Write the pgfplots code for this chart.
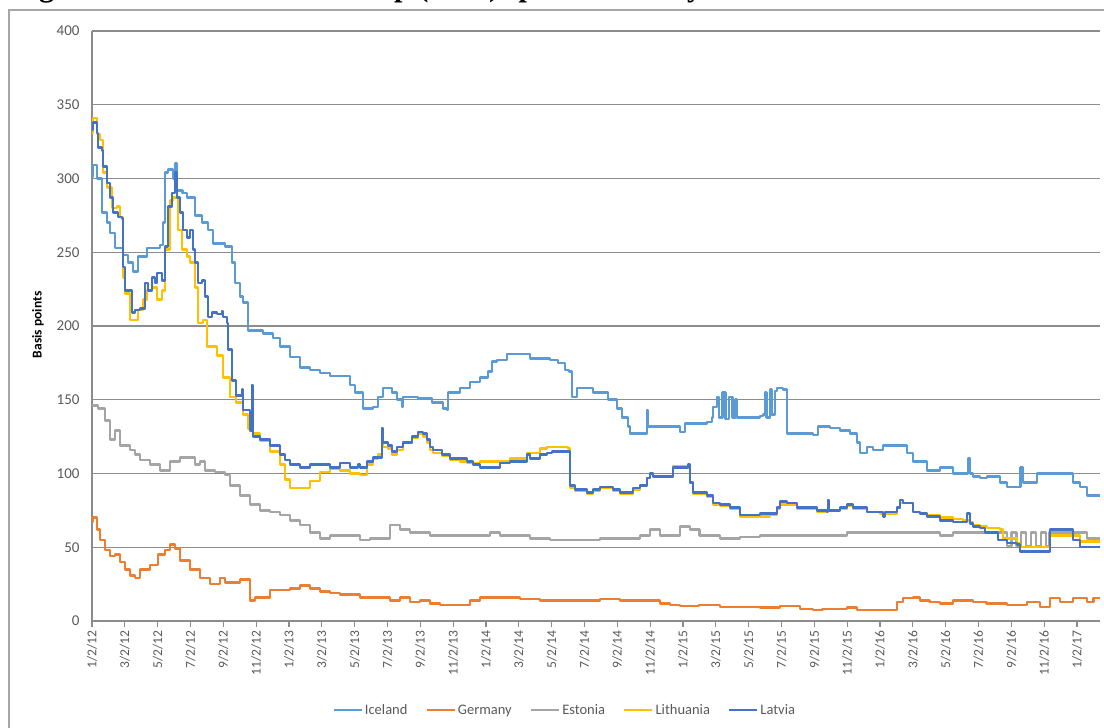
\documentclass[border=0pt]{standalone}
\usepackage{pgfplots}
\pgfplotsset{compat=1.18}
\usepackage{fontspec}
\setmainfont{Carlito}
\newfontfamily\titlefont{Liberation Serif}
\definecolor{iceland}{HTML}{5B9BD5}
\definecolor{germany}{HTML}{ED7D31}
\definecolor{estonia}{HTML}{A5A5A5}
\definecolor{lithuania}{HTML}{FFC000}
\definecolor{latvia}{HTML}{4472C4}
\definecolor{txt}{HTML}{595959}
\definecolor{gridc}{HTML}{8C8C8C}
\definecolor{framec}{HTML}{A6A6A6}
\begin{document}
\begin{tikzpicture}
\begin{scope}
\clip (0pt,0pt) rectangle (1104pt,728pt);
\node[anchor=base west, inner sep=0pt] at (12pt,731pt) {\titlefont\bfseries\fontsize{30.3}{30.3}\selectfont Figure 10: Credit default swap (CDS) spreads weekly};
\end{scope}
\draw[framec, line width=1.2pt] (9pt,0pt) -- (9pt,718pt) -- (1104pt,718pt);
\begin{axis}[
  at={(92pt,107pt)}, anchor=south west,
  width=1008pt, height=590pt, scale only axis,
  xmin=0, xmax=61.4, ymin=0, ymax=400,
  axis x line*=bottom, axis y line*=left,
  axis line style={gridc, line width=1.2pt, -},
  ytick={0,50,...,400},
  ymajorgrids, grid style={gridc, line width=1.1pt},
  tick align=outside, major tick length=6pt,
  xtick style={gridc, line width=1.1pt},
  ytick style={draw=none},
  xtick={0,2,...,60},
  xticklabels={1/2/12,3/2/12,5/2/12,7/2/12,9/2/12,11/2/12,1/2/13,3/2/13,5/2/13,7/2/13,9/2/13,11/2/13,1/2/14,3/2/14,5/2/14,7/2/14,9/2/14,11/2/14,1/2/15,3/2/15,5/2/15,7/2/15,9/2/15,11/2/15,1/2/16,3/2/16,5/2/16,7/2/16,9/2/16,11/2/16,1/2/17},
  xticklabel style={rotate=90, anchor=east, font=\fontsize{13.5}{13.5}\selectfont, text=txt},
  yticklabel style={font=\fontsize{15}{15}\selectfont, text=txt, xshift=-3pt},
  /pgf/number format/assume math mode=true,
  ylabel={\bfseries Basis points},
  ylabel style={at={(axis description cs:-0.0536,0.502)}, anchor=center, font=\fontsize{13.5}{13.5}\selectfont},
  legend style={at={(0.469,-0.151)}, anchor=center, draw=none, fill=none, legend columns=5,
    font=\fontsize{14.5}{14.5}\selectfont, text=txt,
    /tikz/every even column/.append style={column sep=16pt}},
  legend image code/.code={\draw[#1, line width=2.5pt] (0pt,0pt) -- (28pt,0pt);},
  every axis plot/.append style={line width=2.5pt, line join=round, const plot},
]
\addplot[iceland] coordinates {
(0,301)(0.06,309)(0.3,300)(0.61,277)(0.91,270)(1.1,263)(1.4,253)(1.89,248)(2.2,243)(2.5,237)(2.8,247)(3.35,253)(4.14,255)(4.32,270)(4.45,304)(4.63,306)(4.93,300)(5.05,310)(5.18,292)(5.5,290)(5.79,287)(6.09,287)(6.27,275)(6.7,270)(7.06,265)(7.37,256)(8.1,254)(8.53,243)(8.71,229)(9.01,220)(9.2,216)(9.5,197)(9.81,197)(10.41,195)(11.02,192)(11.45,186)(12.06,179)(12.67,172)(13.28,170)(13.89,168)(14.49,166)(15.1,166)(15.71,160)(16.02,155)(16.32,155)(16.5,144)(17.11,145)(17.42,152)(17.72,158)(18.27,155)(18.58,150)(18.88,145)(18.94,152)(19.85,151)(20.71,148)(21.38,144)(21.62,143)(21.68,155)(22.41,158)(23.02,162)(23.63,165)(24.12,169)(24.36,176)(24.67,177)(25.27,181)(26.07,181)(26.67,178)(27.41,178)(27.89,177)(28.38,175)(28.81,170)(29.05,169)(29.23,152)(29.54,158)(30.51,155)(31.24,155)(31.43,150)(31.97,144)(32.28,138)(32.64,132)(32.77,127)(33.37,127)(33.8,143)(33.86,132)(35.02,132)(35.81,128)(36.11,134)(37.45,135)(37.76,138)(37.82,145)(38.06,152)(38.2,138)(38.4,155)(38.6,137)(38.8,152)(39.0,138)(39.2,150)(39.28,138)(40.26,138)(40.68,139)(40.86,140)(41.0,155)(41.1,138)(41.3,157)(41.4,140)(41.6,156)(41.72,158)(42.08,157)(42.33,127)(43.91,126)(44.21,132)(44.95,131)(45.55,129)(46.16,127)(46.59,121)(46.77,114)(47.2,118)(47.56,116)(48.17,119)(49.21,119)(49.63,114)(50.0,108)(50.85,102)(51.64,104)(52.44,100)(53.29,100)(53.35,110)(53.47,100)(53.65,98)(54.08,97)(54.51,98)(55.3,94)(55.72,91)(56.52,91)(56.55,104)(56.7,94)(57.55,100)(59.38,100)(59.74,94)(60.17,91)(60.6,85)(61.39,85)
};
\addlegendentry{Iceland}
\addplot[germany] coordinates {
(0,67)(0.06,70)(0.3,62)(0.49,55)(0.79,48)(1.1,44)(1.4,45)(1.71,40)(2.01,35)(2.31,31)(2.62,29)(2.92,35)(3.53,38)(4.02,45)(4.45,48)(4.75,52)(5.05,49)(5.36,41)(5.97,35)(6.58,29)(7.19,25)(7.8,29)(8.1,26)(9.01,28)(9.62,14)(9.93,16)(10.23,16)(10.84,21)(11.45,21)(12.06,22)(12.67,24)(13.28,22)(13.89,20)(14.49,19)(15.1,18)(15.71,18)(16.32,16)(16.93,16)(17.54,16)(18.15,14)(18.76,16)(19.37,13)(19.98,14)(20.58,12)(21.19,11)(21.8,11)(22.41,11)(23.02,14)(23.63,16)(24.24,16)(24.85,16)(25.46,16)(26.07,15)(27.28,14)(28.5,14)(29.72,14)(30.94,15)(32.16,14)(33.37,14)(34.59,12)(35.2,11)(35.81,10)(36.98,11)(38.25,9.5)(39.46,9.5)(40.68,9)(41.9,10)(43.12,8)(43.91,7.5)(44.5,8)(45.98,9)(46.59,7.5)(48.42,7.5)(49.03,13)(49.39,15.6)(50.0,16)(50.43,14)(51.0,13)(51.64,12)(52.44,14)(53.65,13)(54.5,12)(55.72,11)(56.94,13)(57.73,9.5)(58.34,15.6)(58.95,13)(59.74,15.6)(60.6,13)(61.0,15.6)(61.39,15)
};
\addlegendentry{Germany}
\addplot[estonia] coordinates {
(0,146)(0.37,144)(0.79,136)(1.1,123)(1.4,129)(1.71,119)(2.31,116)(2.62,113)(2.92,109)(3.53,106)(4.14,102)(4.75,108)(5.36,111)(5.97,111)(6.27,106)(6.58,108)(6.88,102)(7.49,101)(8.1,99)(8.4,92)(9.01,85)(9.62,79)(10.23,75)(10.84,74)(11.45,72)(12.06,68)(12.67,65)(13.28,60)(13.89,56)(14.49,58)(15.71,58)(16.32,55)(16.93,56)(17.97,56)(18.15,65)(18.76,62)(19.37,60)(20.58,58)(21.8,58)(23.02,58)(24.24,60)(24.85,58)(25.46,58)(26.67,56)(27.89,55)(29.11,55)(30.94,56)(32.16,56)(33.37,58)(33.98,62)(34.59,58)(35.81,64)(36.42,62)(37.0,58)(38.25,56)(39.46,57)(40.68,58)(45.55,58)(45.98,60)(47.99,60)(51.64,58)(52.44,60)(54.08,60)(55.5,60)(55.72,51)(56.0,60)(56.3,51)(56.6,60)(56.9,51)(57.2,60)(57.5,51)(57.8,60)(58.1,51)(58.3,60)(60.17,60)(60.6,56)(61.39,56)
};
\addlegendentry{Estonia}
\addplot[lithuania] coordinates {
(0,331)(0.06,341)(0.3,330)(0.49,326)(0.67,304)(0.91,294)(1.22,280)(1.52,281)(1.71,274)(1.89,233)(2.01,222)(2.31,204)(2.5,204)(2.8,211)(3.11,218)(3.35,224)(3.65,226)(3.96,218)(4.26,224)(4.45,252)(4.75,285)(4.93,287)(5.24,265)(5.48,252)(5.79,247)(5.97,243)(6.27,226)(6.46,202)(6.76,204)(7.0,186)(7.31,186)(7.61,180)(7.98,165)(8.4,152)(8.77,148)(9.2,140)(9.5,130)(9.81,127)(10.23,122)(10.84,115)(11.45,106)(11.75,96)(12.06,90)(12.67,90)(13.28,95)(13.89,101)(14.49,103)(15.1,102)(15.71,100)(16.32,99)(16.75,106)(17.11,110)(17.42,113)(17.66,128)(17.72,118)(18.03,117)(18.27,113)(18.58,116)(18.94,121)(19.49,124)(19.85,127)(20.16,125)(20.4,121)(20.58,116)(20.77,114)(21.32,112)(21.8,109)(22.41,108)(22.84,107)(23.2,107)(23.63,108)(24.42,108)(24.85,108)(25.46,110)(26.25,110)(26.49,114)(27.28,117)(27.71,118)(28.01,118)(28.99,117)(29.11,90)(29.42,88)(30.15,86)(30.51,88)(30.94,90)(31.36,90)(31.73,88)(32.16,86)(32.58,86)(32.95,89)(33.37,92)(33.8,97)(33.98,100)(34.17,98)(35.02,98)(35.38,105)(35.81,105)(36.3,104)(36.42,94)(36.6,86)(37.45,84)(37.82,79)(38.25,78)(38.86,76)(39.46,71)(40.68,71)(41.29,72)(41.72,76)(41.9,79)(42.33,79)(42.94,76)(43.73,76)(44.15,74)(44.76,75)(45.55,76)(45.98,78)(46.35,76)(47.2,74)(47.99,73)(48.42,73)(49.03,77)(49.21,80)(50.0,74)(50.43,73)(50.85,72)(51.64,70)(52.44,69)(53.05,68)(53.47,67)(53.65,65)(54.08,64)(54.51,63)(55.3,62)(55.5,56)(56.33,53)(56.52,50)(58.16,50)(58.34,58)(59.74,58)(60.17,54)(61.39,54)
};
\addlegendentry{Lithuania}
\addplot[latvia] coordinates {
(0,333)(0.06,338)(0.3,331)(0.37,321)(0.61,319)(0.67,308)(0.91,297)(1.1,287)(1.28,277)(1.58,274)(1.83,273)(1.89,240)(2.01,224)(2.19,224)(2.44,209)(2.62,211)(2.92,212)(3.23,229)(3.41,224)(3.65,233)(3.84,229)(3.96,236)(4.26,231)(4.45,254)(4.63,281)(4.87,290)(5.05,304)(5.18,287)(5.36,277)(5.54,265)(5.79,260)(5.97,265)(6.15,252)(6.27,243)(6.46,229)(6.7,231)(6.88,220)(7.06,206)(7.31,209)(7.61,208)(7.92,210)(7.98,206)(8.22,202)(8.28,184)(8.53,163)(8.77,153)(9.14,157)(9.2,143)(9.62,129)(9.75,160)(9.81,125)(10.23,123)(10.84,119)(11.45,113)(11.75,109)(12.06,106)(12.67,104)(13.28,106)(13.89,106)(14.49,104)(15.1,107)(15.71,104)(16.2,106)(16.32,104)(16.75,108)(17.11,111)(17.66,131)(17.72,121)(18.03,119)(18.27,115)(18.58,118)(18.94,121)(19.49,125)(19.85,128)(20.16,127)(20.4,123)(20.58,118)(20.77,116)(21.32,113)(21.8,110)(22.41,110)(22.84,108)(23.2,106)(23.63,104)(24.42,104)(24.85,107)(25.46,108)(26.25,108)(26.49,113)(26.67,110)(27.28,113)(27.71,114)(28.01,115)(28.99,115)(29.11,92)(29.42,89)(30.15,87)(30.51,89)(30.94,91)(31.36,91)(31.73,89)(32.16,87)(32.58,87)(32.95,90)(33.37,92)(33.8,97)(33.98,100)(34.17,98)(35.02,98)(35.38,104)(35.81,104)(36.3,106)(36.42,94)(36.6,87)(37.45,85)(37.82,80)(38.25,79)(38.86,77)(39.46,72)(40.68,73)(41.29,73)(41.72,77)(41.9,81)(42.33,80)(42.94,77)(43.73,77)(44.15,75)(44.76,74)(44.82,82)(44.88,75)(45.55,77)(45.98,79)(46.35,77)(47.2,74)(47.99,74)(48.17,71)(48.3,74)(49.03,77)(49.21,82)(49.39,80)(50.0,74)(50.43,73)(50.85,71)(51.64,68)(52.44,67)(53.05,67)(53.29,73)(53.47,66)(53.65,64)(54.08,63)(54.38,60)(54.87,60)(55.18,55)(55.72,53)(56.33,52)(56.52,47)(58.16,47)(58.34,62)(59.38,62)(59.74,55)(60.17,50)(60.96,50)(61.39,51)
};
\addlegendentry{Latvia}
\end{axis}
\pgfresetboundingbox
\useasboundingbox (0pt,0pt) rectangle (1104pt,728pt);
\end{tikzpicture}
\end{document}
